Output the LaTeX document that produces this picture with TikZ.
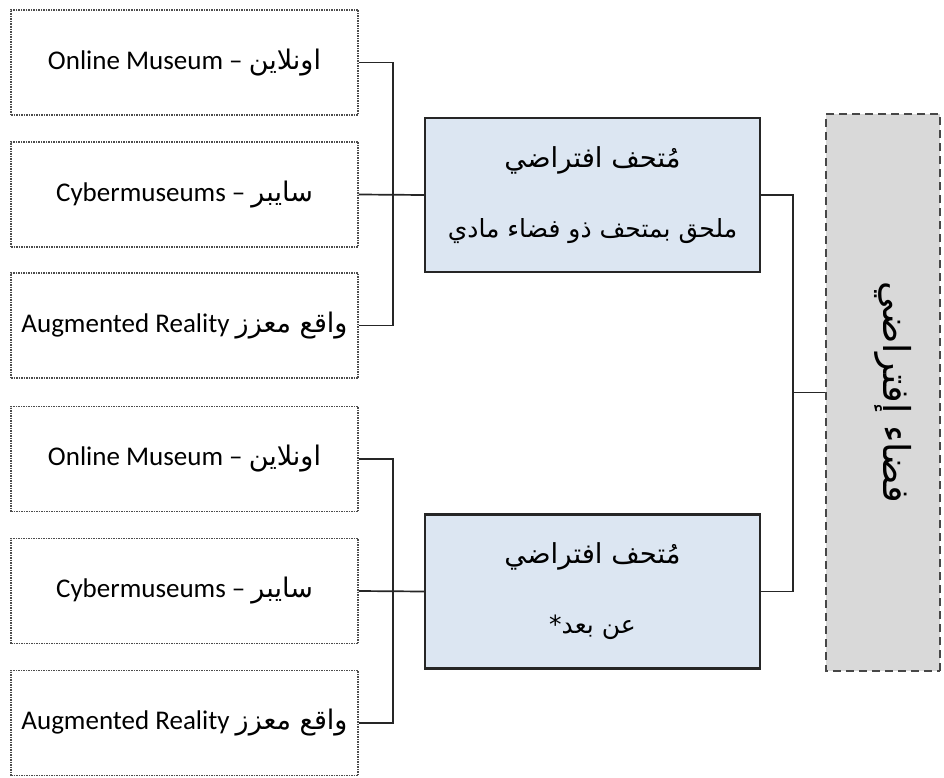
\documentclass[tikz,border=0pt]{standalone}
\usepackage{fontspec}
\setmainfont{Carlito}
\newfontfamily\arabicfont[Script=Arabic]{DejaVu Sans}
\TeXXeTstate=1
\newcommand{\ar}[1]{{\arabicfont\beginR #1\endR}}
\newcommand{\artitle}[1]{{\fontsize{27.5}{70}\selectfont\beginR #1\endR}}

\definecolor{boxblue}{HTML}{DCE6F2}
\definecolor{boxgray}{HTML}{D9D9D9}
\definecolor{edgedark}{HTML}{262626}

\tikzset{
  leftbox/.style={draw=gray!60!black, densely dotted, line width=1.5pt,
    minimum width=347pt, minimum height=105pt, inner sep=0pt,
    font=\fontsize{27}{32}\selectfont},
  museumbox/.style={draw=edgedark, fill=boxblue, line width=2.2pt,
    minimum width=335pt, minimum height=154pt, inner sep=0pt, align=center,
    font=\arabicfont\fontsize{25}{70}\selectfont},
  spacebox/.style={draw=edgedark!85, fill=boxgray, dashed, dash pattern=on 8pt off 5pt,
    line width=2.4pt, minimum width=557pt, minimum height=114pt, inner sep=0pt,
    rotate=-90, font=\arabicfont\fontsize{37}{42}\selectfont},
  link/.style={draw=black!85, line width=1.7pt}
}

\begin{document}
\begin{tikzpicture}[x=1pt,y=-1pt]
\useasboundingbox (0,0) rectangle (944,778);

% left column: the six sub-types
\node[leftbox] (l1) at (184.5,62.5)  {Online Museum – \ar{اونلاين}};
\node[leftbox] (l2) at (184.5,194.5) {Cybermuseums – \ar{سايبر}};
\node[leftbox] (l3) at (184.5,325.5) {Augmented Reality \ar{واقع معزز}};
\node[leftbox] (l4) at (184.5,459)   {Online Museum – \ar{اونلاين}};
\node[leftbox] (l5) at (184.5,591)   {Cybermuseums – \ar{سايبر}};
\node[leftbox] (l6) at (184.5,723)   {Augmented Reality \ar{واقع معزز}};

% middle column: the two kinds of virtual museum
\node[museumbox] (b1) at (592.5,195)
  {\artitle{مُتحف افتراضي}\\\beginR ملحق بمتحف ذو فضاء مادي\endR};
\node[museumbox] (b2) at (592.5,591.5)
  {\artitle{مُتحف افتراضي}\\\beginR عن بعد*\endR};

% right column: the virtual space (rotated, so its south side faces left)
\node[spacebox] (g) at (883,392.5) {\smash{\beginR فضاء إفتراضي\endR}};

% connectors: a bus for each group of three, then the fork into the space
\draw[link] (l1.east) -- ++(34,0) |- (l3.east);
\draw[link] (l2.east) -- (b1.west);
\draw[link] (l4.east) -- ++(34,0) |- (l6.east);
\draw[link] (l5.east) -- (b2.west);

\coordinate (j) at (793,392.5);
\draw[link] (b1.east) -| (j) |- (b2.east);
\draw[link] (j) -- (g.south);
\end{tikzpicture}
\end{document}
